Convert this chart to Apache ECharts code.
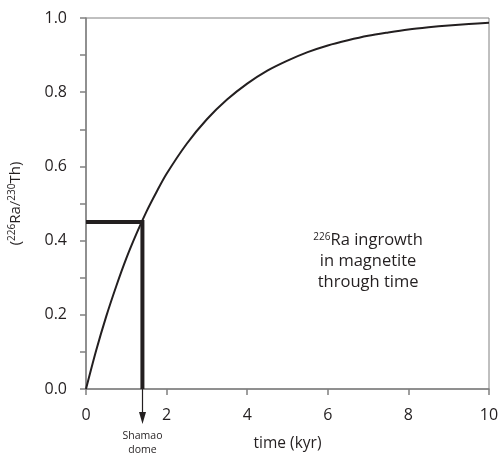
<!DOCTYPE html>
<html>
<head>
<meta charset="utf-8">
<script src="https://cdn.jsdelivr.net/npm/echarts@6/dist/echarts.min.js"></script>
<style>html,body{margin:0;padding:0;background:#fff;}#c{width:502px;height:453px;}</style>
</head>
<body>
<div id="c"></div>
<script>
// time (kyr) and (226Ra/230Th)
var timeKyr = [0, 0.25, 0.5, 0.75, 1, 1.25, 1.5, 1.75, 2, 2.5, 3, 3.5, 4, 4.5, 5, 5.5, 6, 6.5, 7, 7.5, 8, 8.5, 9, 9.5, 10];
var raTh = [0, 0.103, 0.195, 0.277, 0.352, 0.418, 0.478, 0.531, 0.580, 0.661, 0.727, 0.780, 0.823, 0.858, 0.885, 0.908, 0.926, 0.940, 0.952, 0.961, 0.969, 0.975, 0.980, 0.984, 0.987];
// Shamao dome reading
var shamaoAge = [1.4];
var shamaoRatio = [0.45];
var xTickLabels = ['0', '2', '4', '6', '8', '10'];
var yTickLabels = ['0.0', '0.2', '0.4', '0.6', '0.8', '1.0'];

var ink = '#231f20';
var axisGrey = '#808080';
var font = 'Open Sans';

var curve = timeKyr.map(function (t, i) { return [t, raTh[i]]; });
var guide = [[0, shamaoRatio[0]], [shamaoAge[0], shamaoRatio[0]], [shamaoAge[0], 0]];

var chart = echarts.init(document.getElementById('c'), null, {renderer: 'canvas'});
chart.setOption({
  animation: false,
  backgroundColor: '#fff',
  grid: {left: 86, right: 13, top: 18, bottom: 64, containLabel: false, outerBoundsMode: 'none',
         show: true, borderColor: axisGrey, borderWidth: 1, backgroundColor: 'transparent'},
  xAxis: {
    type: 'value', min: 0, max: 10, interval: 2,
    name: 'time (kyr)', nameLocation: 'middle', nameGap: 47,
    nameTextStyle: {fontFamily: font, fontSize: 15.5, color: ink},
    axisLine: {show: true, lineStyle: {color: axisGrey, width: 1.5}},
    axisTick: {show: true, length: 6, lineStyle: {color: axisGrey, width: 1.5}},
    axisLabel: {fontFamily: font, fontSize: 16, color: ink, margin: 18,
      formatter: function (v) { var i = Math.round(v / 2); return xTickLabels[i] || ''; }},
    splitLine: {show: false}
  },
  yAxis: {
    type: 'value', min: 0, max: 1, interval: 0.1,
    name: '({s|226}Ra/{s|230}Th)', nameLocation: 'middle', nameGap: 62,
    nameTextStyle: {fontFamily: font, fontSize: 15, color: ink, lineHeight: 17,
      rich: {s: {fontFamily: font, fontSize: 10, color: ink, verticalAlign: 'top', lineHeight: 17}}},
    axisLine: {show: true, lineStyle: {color: axisGrey, width: 1.5}},
    axisTick: {show: true, length: 6, lineStyle: {color: axisGrey, width: 1.5}},
    axisLabel: {fontFamily: font, fontSize: 16, color: ink, margin: 19,
      formatter: function (v) { var k = Math.round(v * 10); return k % 2 === 0 ? yTickLabels[k / 2] : ''; }},
    splitLine: {show: false}
  },
  series: [
    {type: 'line', data: curve, smooth: 0.3, showSymbol: false, symbol: 'none',
     lineStyle: {color: ink, width: 2}, z: 3},
    {type: 'line', data: guide, showSymbol: false, symbol: 'none',
     lineStyle: {color: ink, width: 4, cap: 'butt', join: 'miter'}, z: 4}
  ]
});

var p = chart.convertToPixel({gridIndex: 0}, [shamaoAge[0], 0]);
var ax = Math.round(p[0]) + 0.5;
var ay = p[1];
var tp = chart.convertToPixel({gridIndex: 0}, [7, 0.345]);
chart.setOption({
  graphic: [
    {type: 'line', shape: {x1: ax, y1: ay, x2: ax, y2: ay + 28}, style: {stroke: ink, lineWidth: 1.2}, z: 10},
    {type: 'polygon', shape: {points: [[ax - 3.5, ay + 23], [ax + 3.5, ay + 23], [ax, ay + 35]]}, style: {fill: ink}, z: 10},
    {type: 'text', x: ax, y: ay + 54, style: {text: 'Shamao\ndome', fontFamily: font, fontSize: 10.5, lineHeight: 14, fill: ink, align: 'center', verticalAlign: 'middle'}, z: 10},
    {type: 'text', x: tp[0], y: tp[1], style: {
      text: '{s|226}{m|Ra ingrowth}\n{m|in magnetite}\n{m|through time}',
      align: 'center', verticalAlign: 'middle', fill: ink,
      rich: {
        m: {fontFamily: font, fontSize: 16.5, lineHeight: 21, fill: ink},
        s: {fontFamily: font, fontSize: 10, lineHeight: 21, verticalAlign: 'top', fill: ink, padding: [3, 0, 0, 0]}
      }}, z: 10}
  ]
});
</script>
</body>
</html>
